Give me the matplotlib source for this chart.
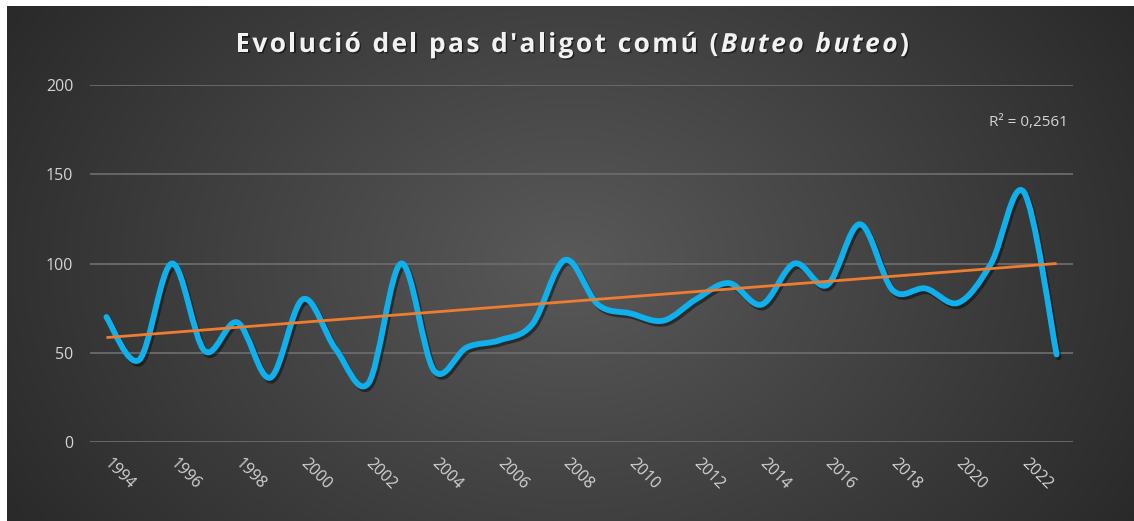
import numpy as np
import matplotlib
matplotlib.use("Agg")
import matplotlib.pyplot as plt
from matplotlib.path import Path
from matplotlib.patches import PathPatch
import matplotlib.patheffects as pe

# data
years = list(range(1994, 2024))
values = [70, 46, 100, 51, 67, 36, 80, 52, 33, 100, 40, 53, 57, 66, 102,
          77, 72, 68, 80, 89, 77, 100, 88, 122, 85, 86, 78, 100, 140, 49]
tick_years = list(range(1994, 2024, 2))
y_ticks = [0, 50, 100, 150, 200]
# Excel linear trendline y = a*x + b, x = 1..n
trend_a = 1.431
trend_b = 57.07
r2_label = "R² = 0,2561"

W, H = 1134, 521
fig = plt.figure(figsize=(W / 100, H / 100), dpi=100, facecolor="white")

# radial dark background (Excel style), with the white strip top/left
bg = fig.add_axes([7 / W, 0, 1 - 7 / W, 1 - 6 / H], zorder=0)
gx, gy = np.meshgrid(np.linspace(-1, 1, 400), np.linspace(-1, 1, 200))
r = np.sqrt((gx / 1.0) ** 2 + (gy / 1.6) ** 2)
shade = 0.35 - 0.19 * np.clip(r, 0, 1.2) / 1.2
bg.imshow(np.dstack([shade] * 3), aspect="auto", extent=[0, 1, 0, 1])
bg.axis("off")

ax = fig.add_axes([90 / W, 1 - 442 / H, (1073 - 90) / W, (442 - 85) / H], zorder=1)
ax.patch.set_alpha(0)
x = np.arange(len(years))
y = np.array(values, dtype=float)

ax.set_xlim(-0.5, len(years) - 0.5)
ax.set_ylim(0, 200)
for s in ax.spines.values():
    s.set_visible(False)
ax.set_yticks(y_ticks)
ax.yaxis.grid(True, color="#6b6b6b", linewidth=1.3)
ax.set_axisbelow(True)
ax.tick_params(axis="y", length=0, pad=12, labelcolor="#d4d4d4", labelsize=11.5)
for lab in ax.get_yticklabels():
    lab.set_family("Open Sans")

ax.set_xticks([years.index(t) for t in tick_years])
ax.set_xticklabels([str(t) for t in tick_years], rotation=-45, ha="left",
                   va="center", rotation_mode="anchor", color="#d4d4d4",
                   fontsize=11.5, family="Open Sans")
ax.tick_params(axis="x", length=0, pad=14)

# smoothed line like Excel (Catmull-Rom as cubic Bezier)
verts = [(x[0], y[0])]
codes = [Path.MOVETO]
n = len(x)
for i in range(n - 1):
    p0 = np.array([x[max(i - 1, 0)], y[max(i - 1, 0)]])
    p1 = np.array([x[i], y[i]])
    p2 = np.array([x[i + 1], y[i + 1]])
    p3 = np.array([x[min(i + 2, n - 1)], y[min(i + 2, n - 1)]])
    c1 = p1 + (p2 - p0) / 6
    c2 = p2 - (p3 - p1) / 6
    verts += [tuple(c1), tuple(c2), tuple(p2)]
    codes += [Path.CURVE4] * 3
curve = PathPatch(Path(verts, codes), facecolor="none", edgecolor="#0fb0ec",
                  linewidth=4.2, capstyle="round", joinstyle="round", zorder=3)
curve.set_path_effects([pe.SimpleLineShadow(offset=(1.5, -2), shadow_color="black", alpha=0.45),
                        pe.Normal()])
ax.add_patch(curve)

# linear trend
ax.plot(x, trend_a * (x + 1) + trend_b, color="#ed7d31", linewidth=2, zorder=4,
        solid_capstyle="butt")

ax.text(0.995, 0.895, r2_label, transform=ax.transAxes, ha="right", va="center",
        color="#d4d4d4", fontsize=11, family="Open Sans")

# title with italic species name, spaced letters like the Excel title
title_plain = "Evolució del pas d'aligot comú ("
title_it = "Buteo buteo"
chars = [(c, "normal") for c in title_plain] + [(c, "italic") for c in title_it] + [(")", "normal")]
spacing = 2.4  # px between letters
tkw = dict(color="#f2f2f2", fontsize=19, fontweight="bold", family="Open Sans",
           va="baseline", ha="left")
rend = fig.canvas.get_renderer()


def adv(c, st):
    # advance width of one character, measured against a sentinel
    a = fig.text(0, 0, c + "|", fontstyle=st, **tkw)
    b = fig.text(0, 0, "|", fontstyle=st, **tkw)
    w = a.get_window_extent(rend).width - b.get_window_extent(rend).width
    a.remove()
    b.remove()
    return w


advs = [adv(c, st) for c, st in chars]
total = sum(advs) + spacing * (len(chars) - 1)
xpix = 572 - total / 2
for (c, st), w in zip(chars, advs):
    if c != " ":
        t = fig.text(xpix / W, 1 - 52 / H, c, fontstyle=st, **tkw)
        t.set_path_effects([pe.withSimplePatchShadow(offset=(1, -1), shadow_rgbFace="black", alpha=0.5)])
    xpix += w + spacing

fig.savefig("out.png", dpi=100, facecolor="white")
